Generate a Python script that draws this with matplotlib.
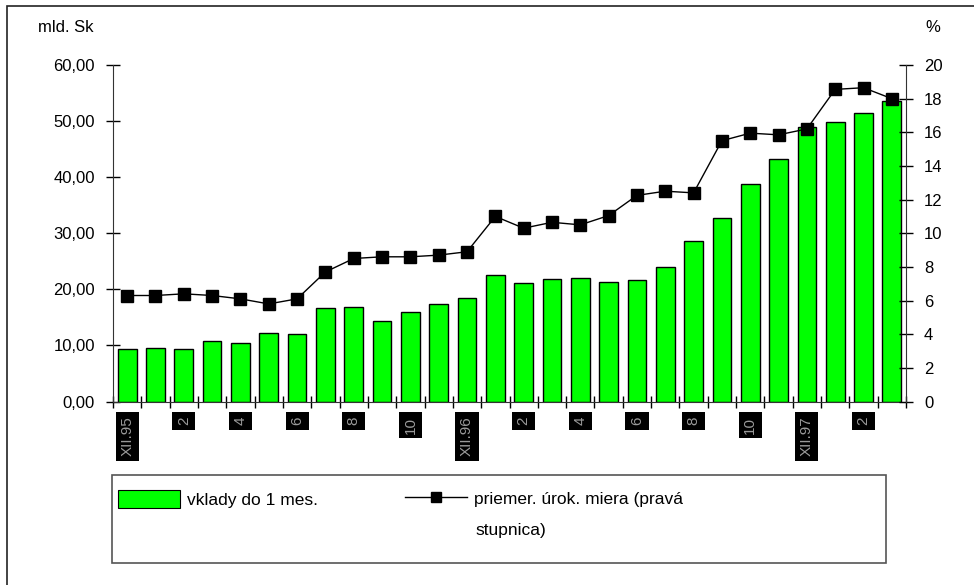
import numpy as np
import matplotlib.pyplot as plt
from matplotlib.patches import Rectangle
from matplotlib.lines import Line2D

plt.rcParams['font.family'] = ['Liberation Sans', 'DejaVu Sans']

# monthly data XII.95 - III.98
months = ['XII.95', '1', '2', '3', '4', '5', '6', '7', '8', '9', '10', '11',
          'XII.96', '1', '2', '3', '4', '5', '6', '7', '8', '9', '10', '11',
          'XII.97', '1', '2', '3']
deposits = [9.4, 9.6, 9.4, 10.8, 10.4, 12.3, 12.1, 16.7, 16.9, 14.3,
            16.0, 17.3, 18.4, 22.5, 21.1, 21.8, 22.1, 21.3, 21.6, 24.0,
            28.7, 32.8, 38.8, 43.2, 49.0, 49.9, 51.5, 53.6]
rate = [6.3, 6.3, 6.4, 6.3, 6.1, 5.8, 6.1, 7.7, 8.5, 8.6,
        8.6, 8.7, 8.9, 11.0, 10.3, 10.65, 10.5, 11.05, 12.25, 12.5,
        12.4, 15.5, 15.95, 15.85, 16.2, 18.55, 18.65, 18.0]
shown_labels = ['XII.95', '2', '4', '6', '8', '10', 'XII.96', '2', '4', '6', '8',
                '10', 'XII.97', '2']

fig = plt.figure(figsize=(9.74, 5.85), dpi=100)
W, H = 974, 585

# outer frame
fig.patches.append(Rectangle((7 / W, -0.1), 1.2, 1 - 6 / H + 0.1, transform=fig.transFigure,
                             fill=False, edgecolor='#222222', lw=1.2))

ax = fig.add_axes([113 / W, 1 - 401.5 / H, 793 / W, 336.5 / H])
x = np.arange(len(deposits))
ax.bar(x, deposits, width=0.66, color='#00ff00', edgecolor='black', lw=1.0, zorder=2)
ax.set_xlim(-0.5, len(deposits) - 0.5)
ax.set_ylim(0, 60)
ax.set_yticks(np.arange(0, 61, 10))
ax.set_yticklabels([('%.2f' % v).replace('.', ',') for v in np.arange(0, 61, 10)])
ax.tick_params(axis='y', direction='inout', length=10, width=1, labelsize=12, pad=8)

ax.set_xticks(np.arange(-0.5, len(deposits), 1))
ax.tick_params(axis='x', direction='inout', length=8, width=1, labelbottom=False)
for i, lab in enumerate(shown_labels):
    ax.text(2 * i, -0.045, lab, transform=ax.get_xaxis_transform(), rotation=90,
            ha='center', va='top', fontsize=11, color='#9a9a9a',
            bbox=dict(boxstyle='square,pad=0.3', facecolor='black', edgecolor='none'))

ax2 = ax.twinx()
ax2.plot(x, rate, color='black', lw=1.0, marker='s', markersize=8, zorder=3)
ax2.set_ylim(0, 20)
ax2.set_yticks(np.arange(0, 21, 2))
ax2.tick_params(axis='y', direction='inout', length=10, width=1, labelsize=12, pad=8)

for a in (ax, ax2):
    a.spines['top'].set_visible(False)
    for s in ('left', 'right', 'bottom'):
        a.spines[s].set_color('#333333')
ax.spines['right'].set_visible(False)
ax2.spines['left'].set_visible(False)
ax2.spines['bottom'].set_visible(False)

fig.text(38 / W, 1 - 28 / H, 'mld. Sk', fontsize=12, va='center', ha='left')
fig.text(925 / W, 1 - 28 / H, '%', fontsize=12, va='center', ha='left')

# legend
fig.patches.append(Rectangle((112 / W, 1 - 563 / H), 774 / W, 88 / H, transform=fig.transFigure,
                             fill=False, edgecolor='#555555', lw=1.2))
bar_handle = Rectangle((0, 0), 1, 1, facecolor='#00ff00', edgecolor='black', lw=0.8)
line_handle = Line2D([], [], color='black', lw=1.0, marker='s', markersize=7)
fig.legend([bar_handle], ['vklady do 1 mes.'], loc='center left',
           bbox_to_anchor=(102 / W, 1 - 499 / H), frameon=False, fontsize=12.5,
           handlelength=3.6, handleheight=1.3, handletextpad=0.4)
fig.legend([line_handle], ['priemer. úrok. miera (pravá'], loc='center left',
           bbox_to_anchor=(389 / W, 1 - 499 / H), frameon=False, fontsize=12.5,
           handlelength=3.6, handletextpad=0.4)
fig.text(475 / W, 1 - 530 / H, 'stupnica)', fontsize=12.5, va='center', ha='left')

fig.savefig('out.png', dpi=100)
